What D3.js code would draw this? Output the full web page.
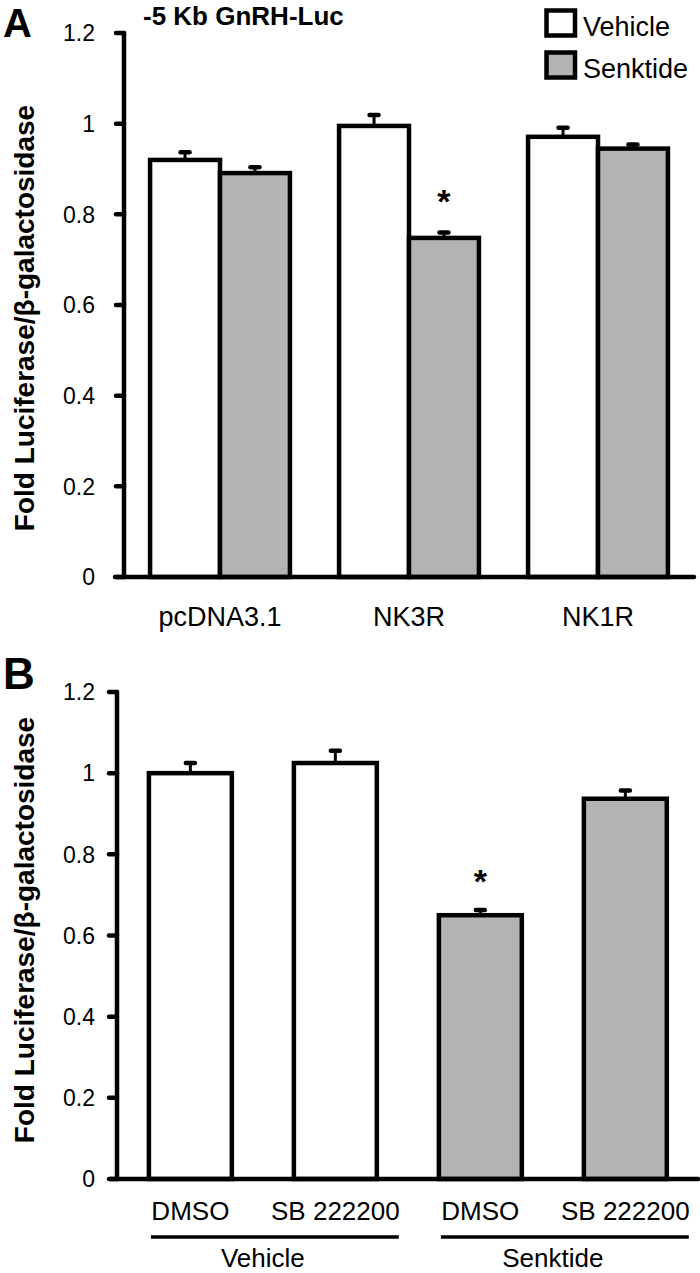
<!DOCTYPE html>
<html><head><meta charset="utf-8">
<script src="https://cdn.jsdelivr.net/npm/d3@7"></script>
<style>body{margin:0;background:#fff}svg{display:block}text{font-family:Arial,"Liberation Sans",sans-serif;fill:#000}</style>
</head><body>
<svg id="c" width="700" height="1273"></svg>
<script>
// Panel A data
const catsA = ["pcDNA3.1", "NK3R", "NK1R"];
const seriesA = ["Vehicle", "Senktide"];
const vehicleA = [0.920, 0.995, 0.971];
const vehicleErrA = [0.017, 0.024, 0.020];
const senktideA = [0.891, 0.748, 0.945];
const senktideErrA = [0.013, 0.012, 0.009];
const sigA = [null, "Senktide", null];
// Panel B data
const catsB = ["DMSO", "SB 222200", "DMSO ", "SB 222200 "];
const groupsB = ["Vehicle", "Vehicle", "Senktide", "Senktide"];
const valuesB = [1.000, 1.025, 0.650, 0.937];
const errB = [0.025, 0.030, 0.013, 0.020];
const sigB = [false, false, true, false];
const yTicks = [0, 0.2, 0.4, 0.6, 0.8, 1, 1.2];
const yLabel = "Fold Luciferase/β-galactosidase";
const titleA = "-5 Kb GnRH-Luc";

const fills = {Vehicle: "#ffffff", Senktide: "#b3b3b3"};
const svg = d3.select("#c");
const SW = 4.5;

function drawAxis(g, y, axX) {
  g.append("line").attr("x1", axX).attr("x2", axX).attr("y1", y(1.2)).attr("y2", y(0))
    .attr("stroke", "#000").attr("stroke-width", SW).attr("stroke-linecap", "round");
  g.selectAll(".tk").data(yTicks).join("line")
    .attr("x1", axX - 8).attr("x2", axX).attr("y1", d => y(d)).attr("y2", d => y(d))
    .attr("stroke", "#000").attr("stroke-width", SW).attr("stroke-linecap", "round");
  g.selectAll(".tl").data(yTicks).join("text")
    .attr("x", 95).attr("y", d => y(d)).attr("dy", "0.36em").attr("text-anchor", "end")
    .attr("font-size", 23).text(d => d);
}
function drawBaseline(g, y, x0, x1) {
  g.append("line").attr("x1", x0).attr("x2", x1).attr("y1", y(0)).attr("y2", y(0))
    .attr("stroke", "#000").attr("stroke-width", SW).attr("stroke-linecap", "round");
}
function errBar(g, cx, yTop, yCap) {
  g.append("line").attr("x1", cx).attr("x2", cx).attr("y1", yTop).attr("y2", yCap)
    .attr("stroke", "#000").attr("stroke-width", 3);
  g.append("line").attr("x1", cx - 4.5).attr("x2", cx + 4.5).attr("y1", yCap).attr("y2", yCap)
    .attr("stroke", "#000").attr("stroke-width", 4.5).attr("stroke-linecap", "round");
}

// ---------- Panel A ----------
{
  const g = svg.append("g");
  const y = d3.scaleLinear().domain([0, 1.2]).range([577, 33]);
  const x = d3.scaleBand().domain(catsA).range([125.5, 692.5]).paddingInner(0.26).paddingOuter(0.13);
  const xs = d3.scaleBand().domain(seriesA).range([0, x.bandwidth()]);
  drawAxis(g, y, 124);
  const rows = [];
  catsA.forEach((c, i) => {
    rows.push({c, s: "Vehicle", v: vehicleA[i], e: vehicleErrA[i], sig: sigA[i] === "Vehicle"});
    rows.push({c, s: "Senktide", v: senktideA[i], e: senktideErrA[i], sig: sigA[i] === "Senktide"});
  });
  rows.forEach(r => {
    const bx = x(r.c) + xs(r.s), bw = xs.bandwidth();
    errBar(g, bx + bw / 2, y(r.v), y(r.v + r.e));
    g.append("rect").attr("x", bx).attr("y", y(r.v)).attr("width", bw).attr("height", y(0) - y(r.v))
      .attr("fill", fills[r.s]).attr("stroke", "#000").attr("stroke-width", SW);
    if (r.sig) g.append("text").attr("x", bx + bw / 2).attr("y", y(r.v + r.e) - 19)
      .attr("text-anchor", "middle").attr("font-size", 34).attr("font-weight", "bold").text("*");
  });
  drawBaseline(g, y, 115, 694);
  g.selectAll(".cl").data(catsA).join("text")
    .attr("x", d => x(d) + x.bandwidth() / 2).attr("y", 626).attr("text-anchor", "middle")
    .attr("font-size", 27).text(d => d);
  g.append("text").attr("x", 143).attr("y", 25).attr("font-size", 26).attr("font-weight", "bold").text(titleA);
  g.append("text").attr("transform", "translate(34,318) rotate(-90)").attr("text-anchor", "middle")
    .attr("font-size", 28).attr("font-weight", "bold").text(yLabel);
  g.append("text").attr("x", 3).attr("y", 37).attr("font-size", 40).attr("font-weight", "bold").text("A");
  // legend
  seriesA.forEach((s, i) => {
    g.append("rect").attr("x", 546.5).attr("y", 10.5 + i * 42).attr("width", 28.5).attr("height", 25)
      .attr("fill", fills[s]).attr("stroke", "#000").attr("stroke-width", SW);
    g.append("text").attr("x", 583).attr("y", 36 + i * 42).attr("font-size", 27).text(s);
  });
}

// ---------- Panel B ----------
{
  const g = svg.append("g");
  const y = d3.scaleLinear().domain([0, 1.2]).range([1179, 692]);
  const x = d3.scaleBand().domain(catsB).range([117, 698.7]).paddingInner(0.428).paddingOuter(0.22);
  drawAxis(g, y, 117);
  catsB.forEach((c, i) => {
    const bx = x(c), bw = x.bandwidth(), v = valuesB[i];
    errBar(g, bx + bw / 2, y(v), y(v + errB[i]));
    g.append("rect").attr("x", bx).attr("y", y(v)).attr("width", bw).attr("height", y(0) - y(v))
      .attr("fill", fills[groupsB[i]]).attr("stroke", "#000").attr("stroke-width", SW);
    if (sigB[i]) g.append("text").attr("x", bx + bw / 2).attr("y", y(v + errB[i]) - 17)
      .attr("text-anchor", "middle").attr("font-size", 34).attr("font-weight", "bold").text("*");
  });
  drawBaseline(g, y, 110, 698);
  g.selectAll(".cl").data(catsB).join("text")
    .attr("x", d => x(d) + x.bandwidth() / 2).attr("y", 1220).attr("text-anchor", "middle")
    .attr("font-size", 26).text(d => d.trim());
  const grp = d3.groups(catsB.map((c, i) => ({c, g: groupsB[i]})), d => d.g);
  grp.forEach(([name, items]) => {
    const first = items[0].c, last = items[items.length - 1].c;
    const xl = x(first), xr = x(last) + x.bandwidth();
    g.append("line").attr("x1", xl + 2).attr("x2", xr + 22).attr("y1", 1237).attr("y2", 1237)
      .attr("stroke", "#000").attr("stroke-width", 3.5);
    g.append("text").attr("x", (x(first) + x(last) + x.bandwidth()) / 2).attr("y", 1267)
      .attr("text-anchor", "middle").attr("font-size", 26).text(name);
  });
  g.append("text").attr("transform", "translate(34,930) rotate(-90)").attr("text-anchor", "middle")
    .attr("font-size", 28).attr("font-weight", "bold").text(yLabel);
  g.append("text").attr("x", 3).attr("y", 689).attr("font-size", 44).attr("font-weight", "bold").text("B");
}
</script>
</body></html>
